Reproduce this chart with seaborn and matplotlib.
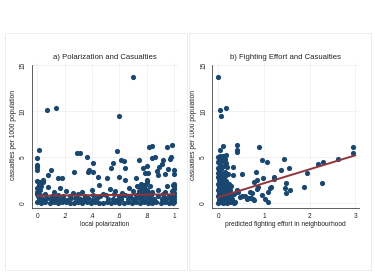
import matplotlib
matplotlib.use("Agg")
from matplotlib import pyplot as plt
from matplotlib.patches import Rectangle
import seaborn as sns

# ---- panel a: polarization vs casualties ----
pol_x = [
    # bottom band
    0.00, 0.03, 0.06, 0.09, 0.12, 0.15, 0.18, 0.21, 0.24, 0.27, 0.30, 0.33, 0.36, 0.39, 0.42, 0.45, 0.48, 0.51,
    0.54, 0.57, 0.60, 0.63, 0.66, 0.69, 0.72, 0.75, 0.78, 0.81, 0.84, 0.87, 0.90, 0.93, 0.96, 0.99, 1.00,
    # second band
    0.01, 0.04, 0.07, 0.10, 0.13, 0.16, 0.19, 0.22, 0.25, 0.28, 0.31, 0.34, 0.37, 0.40, 0.43, 0.52,
    0.55, 0.58, 0.61, 0.66, 0.70, 0.73, 0.76, 0.79, 0.82, 0.85, 0.91, 0.94, 0.97, 1.00, 0.995, 0.005,
    # third band
    0.02, 0.06, 0.11, 0.15, 0.19, 0.24, 0.30, 0.35, 0.41, 0.46, 0.50, 0.56, 0.60,
    0.64, 0.68, 0.72, 0.75, 0.78, 0.80, 0.83, 0.88, 0.92, 0.96, 0.99, 0.74, 0.81,
    # extra fill between bands
    0.045, 0.135, 0.205, 0.285, 0.345, 0.435, 0.565, 0.615, 0.705, 0.765, 0.855, 0.925, 0.985,
    # 1 - 2.5
    0.00, 0.00, 0.01, 0.00, 0.02, 0.03, 0.00, 0.01,
    0.74, 0.75, 0.76, 0.77, 0.78, 0.79, 0.80, 0.81, 0.76, 0.78, 0.80, 0.82, 0.84, 0.77, 0.79,
    1.00, 1.00, 0.99, 1.00, 0.98, 1.00, 0.99, 1.00,
    0.08, 0.17, 0.21, 0.33, 0.40, 0.45, 0.53, 0.57, 0.62, 0.67, 0.88, 0.93, 0.95,
    0.12, 0.26, 0.48, 0.70,
    # upper scatter
    0.70, 0.075, 0.14, 0.60, 0.01, 0.00, 0.00, 0.00, 0.00, 0.29,
    0.31, 0.36, 0.10, 0.27, 0.37, 0.38, 0.41, 0.41, 0.08, 0.15,
    0.18, 0.58, 0.61, 0.63, 0.55, 0.54, 0.64, 0.60, 0.51, 0.44,
    0.64, 0.04, 0.02, 0.04, 0.72, 0.745, 0.77, 0.79, 0.81, 0.80,
    0.815, 0.84, 0.835, 0.86, 0.875, 0.89, 0.91, 0.92, 0.88, 0.95,
    0.98, 0.97, 0.975, 0.93, 1.00, 1.00, 0.955, 0.80, 0.73,
]
pol_cas = [
    0.05, 0.00, 0.10, 0.02, 0.08, 0.00, 0.05, 0.12, 0.03, 0.00, 0.07, 0.02, 0.10, 0.00, 0.05, 0.03, 0.00, 0.08,
    0.02, 0.06, 0.00, 0.04, 0.10, 0.01, 0.05, 0.00, 0.08, 0.03, 0.00, 0.06, 0.02, 0.09, 0.00, 0.04, 0.10,
    0.45, 0.38, 0.50, 0.40, 0.35, 0.48, 0.42, 0.36, 0.52, 0.40, 0.45, 0.38, 0.50, 0.35, 0.44, 0.40,
    0.48, 0.36, 0.45, 0.42, 0.38, 0.50, 0.44, 0.36, 0.48, 0.40, 0.45, 0.38, 0.50, 0.42, 0.70, 0.75,
    0.85, 0.95, 0.75, 0.90, 0.80, 0.70, 0.95, 0.78, 0.88, 0.72, 0.82, 0.92, 0.76,
    0.86, 0.74, 0.90, 0.80, 0.95, 0.72, 0.85, 0.78, 0.92, 0.75, 0.88, 1.05, 1.00,
    0.22, 0.60, 0.25, 0.62, 0.20, 0.58, 0.24, 0.65, 0.22, 0.60, 0.25, 0.62, 0.20,
    1.2, 1.6, 2.0, 2.4, 1.4, 1.8, 1.0, 2.2,
    1.3, 1.7, 2.1, 1.1, 1.5, 1.9, 2.3, 1.2, 1.6, 1.0, 1.4, 1.8, 1.2, 2.0, 1.5,
    1.1, 1.5, 1.9, 2.1, 1.3, 1.7, 1.2, 2.0,
    1.7, 1.6, 1.3, 1.2, 1.4, 1.9, 1.5, 1.3, 1.1, 1.6, 1.4, 1.2, 1.8,
    1.2, 1.1, 1.0, 1.3,
    13.73, 10.14, 10.36, 9.46, 5.8, 4.9, 4.1, 3.9, 3.6, 5.4,
    5.4, 5.0, 3.6, 3.4, 3.4, 3.55, 4.3, 3.4, 3.0, 2.75,
    2.75, 5.7, 4.7, 4.6, 4.3, 3.8, 3.85, 2.85, 2.75, 2.8,
    2.5, 2.5, 2.3, 2.3, 2.7, 4.7, 3.8, 3.3, 3.3, 4.0,
    6.05, 6.2, 4.85, 5.0, 3.5, 3.95, 4.2, 4.7, 3.05, 6.05,
    6.3, 4.75, 5.0, 3.2, 3.6, 3.2, 3.65, 2.5, 1.8,
]
pol_fit_x = [0, 1]
pol_fit_y = [0.78, 0.94]

# ---- panel b: fighting effort vs casualties ----
eff_x = [
    0.00, 0.05, 0.10, 0.15, 0.20, 0.25, 0.30, 0.34,
    0.01, 0.06, 0.11, 0.16, 0.21, 0.26, 0.31,
    0.00, 0.04, 0.09, 0.14, 0.19, 0.24, 0.29,
    0.02, 0.07, 0.12, 0.17, 0.22, 0.27,
    0.00, 0.05, 0.10, 0.15, 0.20, 0.25,
    0.01, 0.06, 0.11, 0.16, 0.21,
    0.00, 0.04, 0.09, 0.14, 0.19, 0.24,
    0.02, 0.07, 0.12, 0.17,
    0.00, 0.00, 0.00, 0.00, 0.00, 0.01, 0.02, 0.03, 0.05, 0.06, 0.08, 0.09, 0.10,
    0.12, 0.13, 0.14, 0.15, 0.16, 0.18, 0.20, 0.04, 0.07, 0.11, 0.17, 0.22, 0.03,
    0.00, 0.04, 0.06, 0.175, 0.10, 0.045, 0.415, 0.42, 0.42, 0.90,
    0.95, 1.07, 1.43, 1.55, 1.38, 0.82, 0.51, 0.98, 1.22, 1.22,
    1.49, 1.46, 1.57, 1.48, 1.87, 1.95, 2.18, 2.30, 2.26, 2.61,
    2.95, 2.95, 0.78, 0.84, 0.87, 0.84, 0.70, 0.73, 1.02, 1.08,
    1.13, 1.16, 1.09, 0.95, 0.75, 0.72, 0.78, 0.58, 0.52, 0.64,
    0.44, 0.40, 0.35, 0.36, 0.33, 0.33, 0.29, 0.47, 0.62, 0.67,
]
eff_cas = [
    0.02, 0.05, 0.00, 0.08, 0.03, 0.06, 0.10, 0.00,
    0.35, 0.40, 0.30, 0.42, 0.36, 0.33, 0.38,
    0.70, 0.75, 0.68, 0.72, 0.78, 0.66, 0.74,
    1.05, 1.00, 1.10, 1.02, 1.08, 1.00,
    1.40, 1.35, 1.45, 1.38, 1.42, 1.36,
    1.75, 1.70, 1.80, 1.72, 1.78,
    2.10, 2.05, 2.12, 2.08, 2.15, 2.05,
    2.45, 2.40, 2.50, 2.42,
    2.8, 3.3, 3.8, 4.4, 5.0, 4.7, 3.5, 4.1, 2.9, 3.7, 4.6, 3.2, 5.1,
    2.7, 4.0, 3.4, 4.8, 3.0, 5.2, 3.9, 4.9, 2.6, 2.9, 4.3, 3.1, 5.1,
    13.73, 10.14, 9.46, 10.36, 6.2, 5.76, 6.3, 5.76, 5.5, 6.05,
    4.67, 4.5, 4.8, 3.8, 3.6, 3.37, 3.2, 2.75, 2.85, 2.65,
    2.2, 1.6, 1.4, 1.05, 1.74, 3.3, 4.25, 4.45, 2.14, 4.75,
    6.1, 5.4, 2.3, 2.5, 1.78, 1.5, 1.23, 1.05, 0.4, 0.15,
    1.6, 1.78, 1.23, 0.87, 0.4, 0.5, 0.3, 0.7, 0.75, 0.5,
    1.2, 1.4, 0.95, 0.15, 3.95, 3.05, 1.8, 0.6, 0.45, 0.55,
]
eff_fit_x = [0, 3]
eff_fit_y = [0.62, 5.18]

y_ticks = [0, 5, 10, 15]
pol_ticks = [0, 0.2, 0.4, 0.6, 0.8, 1]
pol_tick_labels = ["0", ".2", ".4", ".6", ".8", "1"]
eff_ticks = [0, 1, 2, 3]
eff_tick_labels = ["0", "1", "2", "3"]

NAVY = "#1a476f"
MAROON = "#90353b"
GRID = "#edf1f3"
AXIS = "#444444"


def style_axis(ax, title, xlabel, xticks, xticklabels, xlim):
    ax.set_xlim(*xlim)
    ax.set_ylim(-0.52, 15.2)
    ax.set_xticks(xticks)
    ax.set_xticklabels(xticklabels)
    ax.set_yticks(y_ticks)
    ax.set_yticklabels([str(t) for t in y_ticks], rotation=90, va="center")
    ax.grid(True, color=GRID, linewidth=0.6)
    ax.set_axisbelow(True)
    for side in ["top", "right"]:
        ax.spines[side].set_visible(False)
    for side in ["left", "bottom"]:
        ax.spines[side].set_color(AXIS)
        ax.spines[side].set_linewidth(0.6)
    ax.spines["left"].set_bounds(-0.52, 15)
    ax.tick_params(length=2.2, width=0.5, color=AXIS, labelsize=4.7, pad=1.5, labelcolor="#222222")
    ax.set_title(title, fontsize=5.6, pad=3, color="#222222")
    ax.set_xlabel(xlabel, fontsize=4.8, labelpad=1.0, color="#222222")
    ax.set_ylabel("casualties per 1000 population", fontsize=4.8, labelpad=2, color="#222222")


def main():
    sns.set_style("white")
    plt.rcParams["font.family"] = ["Liberation Sans", "DejaVu Sans"]

    fig = plt.figure(figsize=(3.75, 2.78), dpi=100)
    fig.patch.set_facecolor("white")

    # panel frames
    for x0, x1 in [(5, 187), (189, 371)]:
        fig.patches.append(Rectangle((x0 / 375, 8 / 278), (x1 - x0) / 375, 237 / 278,
                                     transform=fig.transFigure, fill=False,
                                     edgecolor="#e6e9eb", linewidth=0.6))

    ax1 = fig.add_axes([31.7 / 375, 70.3 / 278, 146 / 375, 144.5 / 278])
    ax2 = fig.add_axes([212.3 / 375, 70.3 / 278, 146.7 / 375, 144.5 / 278])

    sns.scatterplot(x=pol_x, y=pol_cas, ax=ax1, color=NAVY, s=14, linewidth=0, clip_on=False)
    sns.lineplot(x=pol_fit_x, y=pol_fit_y, ax=ax1, color=MAROON, linewidth=1.4)
    style_axis(ax1, "a) Polarization and Casualties", "local polarization",
               pol_ticks, pol_tick_labels, (-0.04, 1.025))

    sns.scatterplot(x=eff_x, y=eff_cas, ax=ax2, color=NAVY, s=14, linewidth=0, clip_on=False)
    sns.lineplot(x=eff_fit_x, y=eff_fit_y, ax=ax2, color=MAROON, linewidth=1.4)
    style_axis(ax2, "b) Fighting Effort and Casualties", "predicted fighting effort in neighbourhood",
               eff_ticks, eff_tick_labels, (-0.13, 3.08))

    fig.savefig("out.png", dpi=100)


if __name__ == "__main__":
    main()
